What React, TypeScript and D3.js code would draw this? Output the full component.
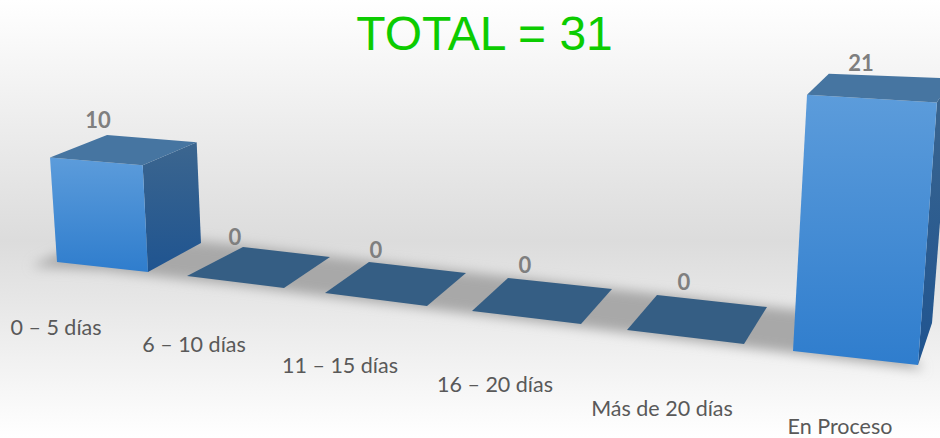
import React from "react";
import * as d3 from "d3";

const categories = ["0 – 5 días", "6 – 10 días", "11 – 15 días", "16 – 20 días", "Más de 20 días", "En Proceso"];
const values = [10, 0, 0, 0, 0, 21];
const titleText = "TOTAL = 31";

const W = 940, H = 438;
const idx = categories.map((_, i) => i);
const s = (r: number[]) => d3.scaleLinear().domain(idx).range(r);

// Floor plane: screen position of the four footprint corners of each category slot
const floor = {
  fl: { x: s([57, 187, 325, 472, 627, 793]), y: s([262, 276, 293, 311, 330, 351]) },
  fr: { x: s([148, 284, 427, 581, 744, 918]), y: s([272, 288, 306, 324, 344, 365]) },
  bl: { x: s([113, 243, 369, 508, 657, 814]), y: s([234, 247, 262, 278, 295, 313]) },
  br: { x: s([201, 330, 466, 612, 767, 932]), y: s([243, 257, 273, 289, 307, 323]) },
};
type Corner = keyof typeof floor;

// Height: pixels per unit, varying with perspective across the floor
const leanX = d3.scaleLinear().domain([57, 918]).range([-0.7, 0.9]);
const riseFront = d3.scaleLinear().domain([57, 918]).range([10.45, 12.5]);
const riseBack = d3.scaleLinear().domain([116, 932]).range([9.9, 11.65]);

function project(i: number, c: Corner, v: number): [number, number] {
  const x = floor[c].x(i), y = floor[c].y(i);
  const rise = c[0] === "f" ? riseFront(x) : riseBack(x);
  return [x + leanX(x) * v, y - rise * v];
}
const poly = d3.line<[number, number]>().curve(d3.curveLinearClosed);

const labelX = s([98, 235, 376, 525, 684, 861]);
const labelDy = s([-7, -2, -4, -5, -5, -3]);
const catX = s([56, 194, 340, 495, 662, 840]);
const catY = s([335, 352, 373, 392, 416, 433.5]);

// Shadow band across the floor, extrapolated slightly beyond the first and last slots
const bandI = [0, 1, 2, 3, 4, 5, 5.4];
const shadowTip: [number, number] = [floor.fl.x(-0.2), floor.fl.y(-0.2) + 7];
const shadowBack: [number, number][] = bandI.map((i) => [floor.bl.x(i) - 6, floor.bl.y(i) - 2]);
const shadowFront: [number, number][] = [...bandI].reverse().map((i) => [
  (floor.fl.x(i) + floor.fr.x(i)) / 2,
  (floor.fl.y(i) + floor.fr.y(i)) / 2 + 3,
]);

const bgStops: [string, string][] = [["0%", "#ffffff"], ["55%", "#dcdcdc"], ["100%", "#ffffff"]];

export default function App() {
  return (
    <svg width={W} height={H} viewBox={`0 0 ${W} ${H}`} style={{ position: "absolute", left: 0, top: 0, display: "block" }}>
      <defs>
        <linearGradient id="bg" x1="0" y1="0" x2="0" y2="1">
          {bgStops.map(([o, c]) => <stop key={o} offset={o} stopColor={c} />)}
        </linearGradient>
        <linearGradient id="front" x1="0" y1="0" x2="0" y2="1">
          <stop offset="0%" stopColor="#5c9cdb" />
          <stop offset="100%" stopColor="#2f7dcd" />
        </linearGradient>
        <linearGradient id="side" x1="0" y1="0" x2="0" y2="1">
          <stop offset="0%" stopColor="#3c668f" />
          <stop offset="100%" stopColor="#1f5490" />
        </linearGradient>
        <filter id="blur" x="-10%" y="-50%" width="120%" height="200%">
          <feGaussianBlur stdDeviation="6" />
        </filter>
      </defs>
      <rect width={W} height={H} fill="url(#bg)" />
      <path d={poly([shadowTip, ...shadowBack, ...shadowFront]) ?? ""} fill="#a8a8a8" filter="url(#blur)" />
      <text x={484.5} y={50} textAnchor="middle" fontFamily="Liberation Sans" fontSize={48} fill="#0ccc00">{titleText}</text>
      {values.map((v, i) => (
        <g key={categories[i]}>
          {v > 0 && (
            <>
              <path d={poly([project(i, "fr", 0), project(i, "br", 0), project(i, "br", v), project(i, "fr", v)]) ?? ""} fill="url(#side)" />
              <path d={poly([project(i, "fl", 0), project(i, "fr", 0), project(i, "fr", v), project(i, "fl", v)]) ?? ""} fill="url(#front)" />
            </>
          )}
          <path d={poly([project(i, "fl", v), project(i, "fr", v), project(i, "br", v), project(i, "bl", v)]) ?? ""} fill={v > 0 ? "#4675a1" : "#355e84"} />
          <text x={labelX(i)} y={project(i, "bl", v)[1] + labelDy(i)} textAnchor="middle" fontFamily="Lato" fontWeight={700} fontSize={22} fill="#7f7f7f">{v}</text>
          <text x={catX(i)} y={catY(i)} textAnchor="middle" fontFamily="Lato" fontSize={21.5} fill="#595959">{categories[i]}</text>
        </g>
      ))}
    </svg>
  );
}
